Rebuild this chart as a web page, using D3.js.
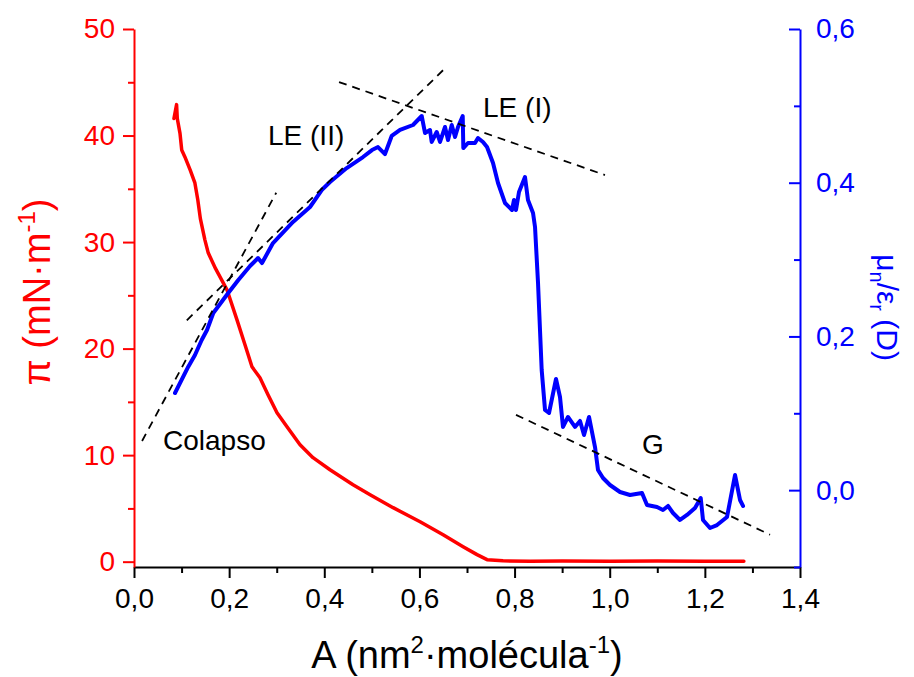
<!DOCTYPE html>
<html>
<head>
<meta charset="utf-8">
<script src="https://cdn.jsdelivr.net/npm/d3@7"></script>
<style>
  body { margin: 0; background: #fff; }
  svg text { font-family: "Liberation Sans", Arial, sans-serif; }
</style>
</head>
<body>
<svg id="chart" width="914" height="677"></svg>
<script>
// Surface pressure isotherm, π (mN·m⁻¹) against area per molecule
const pressureArea = [0.084, 0.0895, 0.091, 0.0967, 0.1003, 0.107, 0.118, 0.128, 0.134, 0.1395,
  0.149, 0.156, 0.1715, 0.1955, 0.2165, 0.2333, 0.248, 0.2648, 0.2817, 0.3006, 0.3216, 0.349,
  0.3763, 0.412, 0.4604, 0.4963, 0.5447, 0.6014, 0.6498, 0.6918, 0.7211, 0.7422, 0.7758, 0.8325,
  0.90, 1.00, 1.10, 1.20, 1.282];
const pressureValues = [41.6, 42.9, 41.6, 40.2, 38.65, 37.99, 36.77, 35.55, 34.0, 32.2,
  30.21, 28.99, 27.5, 25.52, 22.7, 20.36, 18.29, 17.26, 15.67, 13.98, 12.66, 10.98,
  9.76, 8.63, 7.22, 6.29, 5.07, 3.75, 2.53, 1.41, 0.66, 0.19, 0.08, 0.05,
  0.06, 0.05, 0.06, 0.05, 0.05];

// Normal dipole moment, μn/εr (D), against area per molecule
const dipoleArea = [0.0862, 0.1141, 0.1282, 0.1423, 0.1535, 0.1667, 0.1949, 0.2193, 0.2439, 0.2607,
  0.2691, 0.2922, 0.3342, 0.37, 0.3946, 0.412, 0.4471, 0.4814, 0.5003, 0.5129,
  0.5276, 0.5417, 0.5592, 0.5865, 0.6048, 0.6117, 0.6222, 0.6258, 0.6363, 0.6433,
  0.6538, 0.6601, 0.6679, 0.6748, 0.6811, 0.691, 0.6923, 0.7021, 0.7168, 0.7231,
  0.7336, 0.7421, 0.7547, 0.7652, 0.7799, 0.7946, 0.7988, 0.803, 0.8093, 0.8219,
  0.8282, 0.8388, 0.843, 0.8493, 0.857, 0.864, 0.8724, 0.8871, 0.8955, 0.9018,
  0.9123, 0.927, 0.9376, 0.946, 0.9565, 0.9691, 0.9754, 0.9859, 1.0006, 1.0216,
  1.0427, 1.0679, 1.0784, 1.0994, 1.112, 1.1226, 1.1331, 1.1478, 1.1625, 1.1793,
  1.1913, 1.1961, 1.2108, 1.2256, 1.2466, 1.2634, 1.2739, 1.2802];
const dipoleValues = [0.1264, 0.1606, 0.1758, 0.1953, 0.2084, 0.2305, 0.2539, 0.2734, 0.2916, 0.302,
  0.2955, 0.3215, 0.3489, 0.3684, 0.3905, 0.4009, 0.4191, 0.4334, 0.4425, 0.4464,
  0.4373, 0.4608, 0.4686, 0.4751, 0.4868, 0.4647, 0.4686, 0.453, 0.466, 0.453,
  0.4725, 0.4556, 0.4751, 0.4595, 0.4725, 0.4868, 0.4451, 0.4517, 0.4517, 0.4582,
  0.453, 0.4464, 0.4256, 0.3996, 0.3736, 0.3645, 0.3775, 0.3645, 0.3879, 0.4074,
  0.3775, 0.3606, 0.3424, 0.2695, 0.1563, 0.1043, 0.1004, 0.1446, 0.1212, 0.0822,
  0.0952, 0.0822, 0.09, 0.0717, 0.0952, 0.0561, 0.0262, 0.0158, 0.0067, -0.0024,
  -0.0063, -0.0037, -0.0193, -0.0219, -0.0258, -0.0206, -0.0297, -0.0388, -0.0323, -0.0232,
  -0.0102, -0.0388, -0.0493, -0.0454, -0.0349, 0.0197, -0.0128, -0.0206];

// Linear fits marking the phase regions (dipole scale)
const fitAreaStart = [0.017, 0.111, 0.431, 0.803];
const fitAreaEnd = [0.299, 0.654, 0.990, 1.337];
const fitDipoleStart = [0.064, 0.221, 0.531, 0.098];
const fitDipoleEnd = [0.387, 0.549, 0.410, -0.058];

// Phase labels, anchored in (area, dipole) units
const phaseNames = ["Colapso", "LE (II)", "LE (I)", "G"];
const phaseArea = [0.061, 0.2817, 0.7337, 1.0679];
const phaseDipole = [0.0522, 0.449, 0.4855, 0.047];

// Tick values
const areaTicks = [0, 0.2, 0.4, 0.6, 0.8, 1.0, 1.2, 1.4];
const areaMinorTicks = [0.1, 0.3, 0.5, 0.7, 0.9, 1.1, 1.3];
const pressureTicks = [0, 10, 20, 30, 40, 50];
const pressureMinorTicks = [5, 15, 25, 35, 45];
const dipoleTicks = [0, 0.2, 0.4, 0.6];
const dipoleMinorTicks = [-0.1, 0.1, 0.3, 0.5];

const RED = "#ff0000", BLUE = "#0000ff", BLACK = "#000000";
const svg = d3.select("#chart");

const x = d3.scaleLinear().domain([0, 1.4]).range([134, 800]);
const yP = d3.scaleLinear().domain([-0.5, 50]).range([567, 29]);
const yD = d3.scaleLinear().domain([-0.1, 0.6]).range([567, 29]);

const comma = d => d3.format(".1f")(d).replace(".", ",");

function styleAxis(g, color, fontSize) {
  g.selectAll("path.domain").attr("stroke", color).attr("stroke-width", 2);
  g.selectAll(".tick line").attr("stroke", color).attr("stroke-width", 2);
  g.selectAll(".tick text").attr("fill", color).attr("font-size", fontSize)
    .attr("font-family", "\"Liberation Sans\", Arial, sans-serif");
}

// Bottom axis
const gx = svg.append("g").attr("transform", "translate(0,567)")
  .call(d3.axisBottom(x).tickValues(areaTicks).tickFormat(comma)
    .tickSize(11).tickSizeOuter(0).tickPadding(10));
styleAxis(gx, BLACK, 28);
const gxm = svg.append("g").attr("transform", "translate(0,567)")
  .call(d3.axisBottom(x).tickValues(areaMinorTicks).tickFormat("").tickSize(6).tickSizeOuter(0));
gxm.select("path.domain").remove();
styleAxis(gxm, BLACK, 28);

// Left axis (pressure)
const gl = svg.append("g").attr("transform", "translate(134,0)")
  .call(d3.axisLeft(yP).tickValues(pressureTicks).tickFormat(d3.format("d"))
    .tickSize(11).tickSizeOuter(0).tickPadding(8));
styleAxis(gl, RED, 28);
const glm = svg.append("g").attr("transform", "translate(134,0)")
  .call(d3.axisLeft(yP).tickValues(pressureMinorTicks).tickFormat("").tickSize(6).tickSizeOuter(0));
glm.select("path.domain").remove();
styleAxis(glm, RED, 28);

// Right axis (dipole), ticks pointing inward
const gr = svg.append("g").attr("transform", "translate(800,0)")
  .call(d3.axisRight(yD).tickValues(dipoleTicks).tickFormat(comma)
    .tickSizeInner(-11).tickSizeOuter(0).tickPadding(16));
styleAxis(gr, BLUE, 28);
const grm = svg.append("g").attr("transform", "translate(800,0)")
  .call(d3.axisRight(yD).tickValues(dipoleMinorTicks).tickFormat("").tickSizeInner(-6).tickSizeOuter(0));
grm.select("path.domain").remove();
styleAxis(grm, BLUE, 28);

// Curves
const pressureLine = d3.line().x((d, i) => x(pressureArea[i])).y(d => yP(d));
svg.append("path").datum(pressureValues).attr("d", pressureLine)
  .attr("fill", "none").attr("stroke", RED).attr("stroke-width", 3.5)
  .attr("stroke-linejoin", "round").attr("stroke-linecap", "round");

const dipoleLine = d3.line().x((d, i) => x(dipoleArea[i])).y(d => yD(d));
svg.append("path").datum(dipoleValues).attr("d", dipoleLine)
  .attr("fill", "none").attr("stroke", BLUE).attr("stroke-width", 4)
  .attr("stroke-linejoin", "round").attr("stroke-linecap", "round");

// Dashed fit lines
svg.append("g").selectAll("line").data(fitAreaStart).join("line")
  .attr("x1", (d, i) => x(fitAreaStart[i])).attr("y1", (d, i) => yD(fitDipoleStart[i]))
  .attr("x2", (d, i) => x(fitAreaEnd[i])).attr("y2", (d, i) => yD(fitDipoleEnd[i]))
  .attr("stroke", BLACK).attr("stroke-width", 1.8).attr("stroke-dasharray", "8,6");

// Phase labels
svg.append("g").selectAll("text").data(phaseNames).join("text")
  .attr("x", (d, i) => x(phaseArea[i])).attr("y", (d, i) => yD(phaseDipole[i]))
  .attr("font-size", 28).attr("fill", BLACK).text(d => d);

// Axis titles
const xt = svg.append("text").attr("x", 467).attr("y", 668).attr("text-anchor", "middle")
  .attr("font-size", 38).attr("fill", BLACK);
xt.append("tspan").text("A (nm");
xt.append("tspan").attr("font-size", 24).attr("dy", -15).text("2");
xt.append("tspan").attr("dy", 15).text("·molécula");
xt.append("tspan").attr("font-size", 24).attr("dy", -15).text("-1");
xt.append("tspan").attr("dy", 15).text(")");

const lt = svg.append("text").attr("transform", "translate(50,292) rotate(-90)")
  .attr("text-anchor", "middle").attr("font-size", 38).attr("fill", RED);
lt.append("tspan").text("π (mN·m");
lt.append("tspan").attr("font-size", 24).attr("dy", -15).text("-1");
lt.append("tspan").attr("dy", 15).text(")");

const rt = svg.append("text").attr("transform", "translate(877,361) rotate(90)")
  .attr("text-anchor", "end").attr("font-size", 30).attr("fill", BLUE);
rt.append("tspan").text("μ");
rt.append("tspan").attr("font-size", 20).attr("dy", 7).text("n");
rt.append("tspan").attr("dy", -7).text("/ε");
rt.append("tspan").attr("font-size", 20).attr("dy", 7).text("r");
rt.append("tspan").attr("dy", -7).text(" (D)");
</script>
</body>
</html>
